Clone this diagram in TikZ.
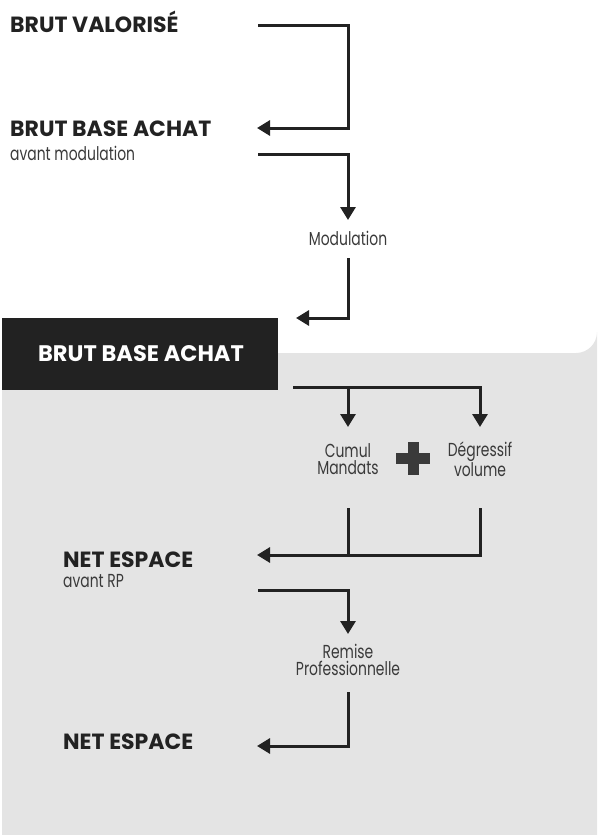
\documentclass[tikz,border=0pt]{standalone}
\usepackage{fontspec}
\usetikzlibrary{arrows.meta}
\newfontfamily\bigf{Poppins Bold}
\newfontfamily\smf[FakeStretch=0.74]{Poppins}
\definecolor{ink}{HTML}{222222}
\definecolor{txt}{HTML}{3A3A3A}
\definecolor{panel}{HTML}{E4E4E4}
\tikzset{
  bigl/.style={font=\bigf\fontsize{22}{24}\selectfont, text=ink, anchor=west, inner sep=0pt},
  subl/.style={font=\smf\fontsize{18.8}{18}\selectfont, text=txt, anchor=west, inner sep=0pt},
  midl/.style={font=\smf\fontsize{18.8}{17.5}\selectfont, text=txt, align=center, inner sep=0pt},
  flow/.style={draw=ink, line width=3pt, -{Triangle[length=13pt,width=15pt]}},
  plain/.style={draw=ink, line width=3pt},
}
\begin{document}
\begin{tikzpicture}[x=1pt,y=-1pt]
\useasboundingbox (0,0) rectangle (597,835);
% panel
\fill[panel] (2,353) -- (576,353) arc[start angle=90, end angle=0, radius=21] -- (597,835) -- (23,835) arc[start angle=270, end angle=180, radius=21] -- cycle;
\fill[ink] (2,318) rectangle (278,390);
\node[font=\bigf\fontsize{22.5}{24}\selectfont, text=white, inner sep=0pt] (bba2) at (141,354) {BRUT BASE ACHAT};
% labels
\node[bigl] (bv) at (10,22) {BRUT VALORISÉ};
\node[bigl] (bba1) at (10,129) {BRUT BASE ACHAT};
\node[subl] (am) at (10,153) {avant modulation};
\node[midl] (mod) at (348,238) {Modulation};
\node[midl] (cm) at (348,459) {Cumul\\Mandats};
\node[midl] (dv) at (480,459) {Dégressif\\volume};
\node[bigl] (ne1) at (63,560) {NET ESPACE};
\node[subl] (arp) at (63,581) {avant RP};
\node[midl] (rp) at (348,660) {Remise\\Professionnelle};
\node[bigl] (ne2) at (63,742) {NET ESPACE};
% plus sign
\fill[txt] (396,453) rectangle (430,464);
\fill[txt] (408,442) rectangle (419,475);
% coordinates
\coordinate (s1) at (258,25);
\coordinate (e1) at (257,128);
\coordinate (s2) at (258,154);
\coordinate (e2) at (348,220);
\coordinate (s3) at (348,258);
\coordinate (e3) at (296,318);
\coordinate (s4) at (293,387);
\coordinate (e4a) at (348,427);
\coordinate (e4b) at (480,427);
\coordinate (s5a) at (348,508);
\coordinate (s5b) at (480,508);
\coordinate (e5) at (257,555);
\coordinate (s6) at (258,590);
\coordinate (e6) at (348,634);
\coordinate (s7) at (348,692);
\coordinate (e7) at (257,746);
% connectors
\draw[flow] (s1) -| (348,128) -- (e1);
\draw[flow] (s2) -| (e2);
\draw[flow] (s3) |- (e3);
\draw[flow] (s4) -| (e4b);
\draw[flow] (348,387) -- (e4a);
\draw[plain] (s5a) -- (348,555);
\draw[flow] (s5b) |- (e5);
\draw[flow] (s6) -| (e6);
\draw[flow] (s7) |- (e7);
\end{tikzpicture}
\end{document}
